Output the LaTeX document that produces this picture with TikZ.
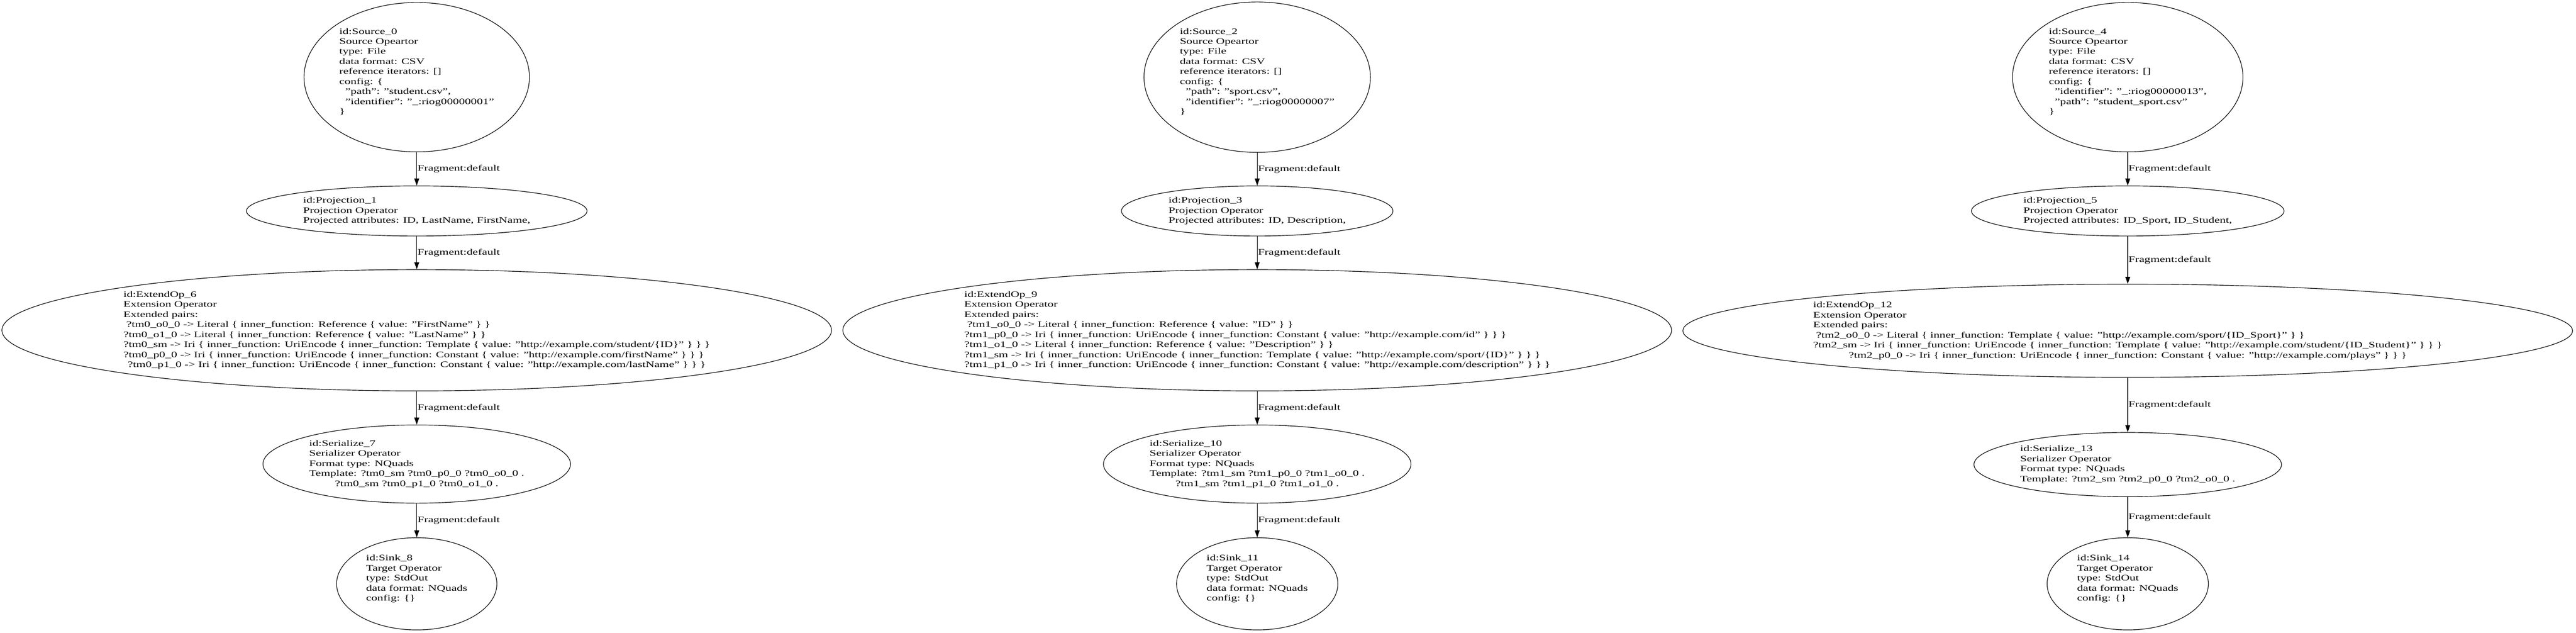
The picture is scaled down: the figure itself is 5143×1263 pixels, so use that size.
\documentclass[tikz,border=0pt]{standalone}
\usepackage{fontspec}
\setmainfont{Liberation Serif}
\usetikzlibrary{shapes.geometric,arrows.meta}
\newcommand{\optext}[1]{\scalebox{1.43}[1]{\begin{tabular}{@{}l@{}}#1\end{tabular}}}
\newcommand{\lastrow}[1]{\multicolumn{1}{@{}c@{}}{#1}}
\begin{document}
\begin{tikzpicture}
  [x=0.5pt,y=-0.5pt,line width=0.6pt,>={Triangle[length=7pt,width=4.8pt]},
   every node/.style={ellipse,draw,inner sep=0pt,font=\fontsize{8.35}{10}\selectfont}]
  \tikzstyle{frag} = [draw=none,shape=rectangle,anchor=west,xshift=0.5pt]
  \useasboundingbox (0,0) rectangle (5143,1263);

  % student.csv
  \node[minimum width=225pt,minimum height=149pt] (src0) at (832,154) {\optext{id:Source\_0\\ Source Opeartor\\ type: File\\ data format: CSV\\ reference iterators: []\\ config: \{\\ ~~"path": "student.csv",\\ ~~"identifier": "\_:riog00000001"\\ \}\\ \mbox{}}};
  \node[minimum width=340pt,minimum height=50pt] (proj1) at (832,421) {\optext{id:Projection\_1\\ Projection Operator\\ Projected attributes: ID, LastName, FirstName,}};
  \node[minimum width=826pt,minimum height=121pt] (ext6) at (832,659) {\optext{id:ExtendOp\_6\\ Extension Operator\\ Extended pairs:\\ ~?tm0\_o0\_0 -> Literal \{ inner\_function: Reference \{ value: "FirstName" \} \}\\ ?tm0\_o1\_0 -> Literal \{ inner\_function: Reference \{ value: "LastName" \} \}\\ ?tm0\_sm -> Iri \{ inner\_function: UriEncode \{ inner\_function: Template \{ value: "http://example.com/student/\{ID\}" \} \} \}\\ ?tm0\_p0\_0 -> Iri \{ inner\_function: UriEncode \{ inner\_function: Constant \{ value: "http://example.com/firstName" \} \} \}\\ \lastrow{?tm0\_p1\_0 -> Iri \{ inner\_function: UriEncode \{ inner\_function: Constant \{ value: "http://example.com/lastName" \} \} \}}}};
  \node[minimum width=307pt,minimum height=78pt] (ser7) at (832,926) {\optext{id:Serialize\_7\\ Serializer Operator\\ Format type: NQuads\\ Template: ?tm0\_sm ?tm0\_p0\_0 ?tm0\_o0\_0 .\\ \lastrow{?tm0\_sm ?tm0\_p1\_0 ?tm0\_o1\_0 .}}};
  \node[minimum width=160pt,minimum height=92pt] (sink8) at (832,1165) {\optext{id:Sink\_8\\ Target Operator\\ type: StdOut\\ data format: NQuads\\ config: \{\}\\ \mbox{}}};

  % sport.csv
  \node[minimum width=226pt,minimum height=150pt] (src2) at (2510,154) {\optext{id:Source\_2\\ Source Opeartor\\ type: File\\ data format: CSV\\ reference iterators: []\\ config: \{\\ ~~"path": "sport.csv",\\ ~~"identifier": "\_:riog00000007"\\ \}\\ \mbox{}}};
  \node[minimum width=271pt,minimum height=50pt] (proj3) at (2510,421) {\optext{id:Projection\_3\\ Projection Operator\\ Projected attributes: ID, Description,}};
  \node[minimum width=810pt,minimum height=121pt] (ext9) at (2510,659) {\optext{id:ExtendOp\_9\\ Extension Operator\\ Extended pairs:\\ ~?tm1\_o0\_0 -> Literal \{ inner\_function: Reference \{ value: "ID" \} \}\\ ?tm1\_p0\_0 -> Iri \{ inner\_function: UriEncode \{ inner\_function: Constant \{ value: "http://example.com/id" \} \} \}\\ ?tm1\_o1\_0 -> Literal \{ inner\_function: Reference \{ value: "Description" \} \}\\ ?tm1\_sm -> Iri \{ inner\_function: UriEncode \{ inner\_function: Template \{ value: "http://example.com/sport/\{ID\}" \} \} \}\\ \lastrow{?tm1\_p1\_0 -> Iri \{ inner\_function: UriEncode \{ inner\_function: Constant \{ value: "http://example.com/description" \} \} \}}}};
  \node[minimum width=307pt,minimum height=78pt] (ser10) at (2510,926) {\optext{id:Serialize\_10\\ Serializer Operator\\ Format type: NQuads\\ Template: ?tm1\_sm ?tm1\_p0\_0 ?tm1\_o0\_0 .\\ \lastrow{?tm1\_sm ?tm1\_p1\_0 ?tm1\_o1\_0 .}}};
  \node[minimum width=161pt,minimum height=92pt] (sink11) at (2510,1165) {\optext{id:Sink\_11\\ Target Operator\\ type: StdOut\\ data format: NQuads\\ config: \{\}\\ \mbox{}}};

  % student_sport.csv
  \node[minimum width=230pt,minimum height=149pt] (src4) at (4248,154) {\optext{id:Source\_4\\ Source Opeartor\\ type: File\\ data format: CSV\\ reference iterators: []\\ config: \{\\ ~~"identifier": "\_:riog00000013",\\ ~~"path": "student\_sport.csv"\\ \}\\ \mbox{}}};
  \node[minimum width=312pt,minimum height=50pt] (proj5) at (4248,421) {\optext{id:Projection\_5\\ Projection Operator\\ Projected attributes: ID\_Sport, ID\_Student,}};
  \node[minimum width=886pt,minimum height=93pt] (ext12) at (4248,660) {\optext{id:ExtendOp\_12\\ Extension Operator\\ Extended pairs:\\ ~?tm2\_o0\_0 -> Literal \{ inner\_function: Template \{ value: "http://example.com/sport/\{ID\_Sport\}" \} \}\\ ?tm2\_sm -> Iri \{ inner\_function: UriEncode \{ inner\_function: Template \{ value: "http://example.com/student/\{ID\_Student\}" \} \} \}\\ \lastrow{?tm2\_p0\_0 -> Iri \{ inner\_function: UriEncode \{ inner\_function: Constant \{ value: "http://example.com/plays" \} \} \}}}};
  \node[minimum width=307pt,minimum height=64pt] (ser13) at (4248,927) {\optext{id:Serialize\_13\\ Serializer Operator\\ Format type: NQuads\\ Template: ?tm2\_sm ?tm2\_p0\_0 ?tm2\_o0\_0 .}};
  \node[minimum width=161pt,minimum height=92pt] (sink14) at (4248,1165) {\optext{id:Sink\_14\\ Target Operator\\ type: StdOut\\ data format: NQuads\\ config: \{\}\\ \mbox{}}};

 \foreach \source /\dest in {src0/proj1,proj1/ext6,ext6/ser7,ser7/sink8,src2/proj3,proj3/ext9,ext9/ser10,ser10/sink11,src4/proj5,proj5/ext12,ext12/ser13,ser13/sink14}
   \draw[->] (\source) -- node[frag] {\scalebox{1.43}[1]{Fragment:default}} (\dest);

\end{tikzpicture}
\end{document}
